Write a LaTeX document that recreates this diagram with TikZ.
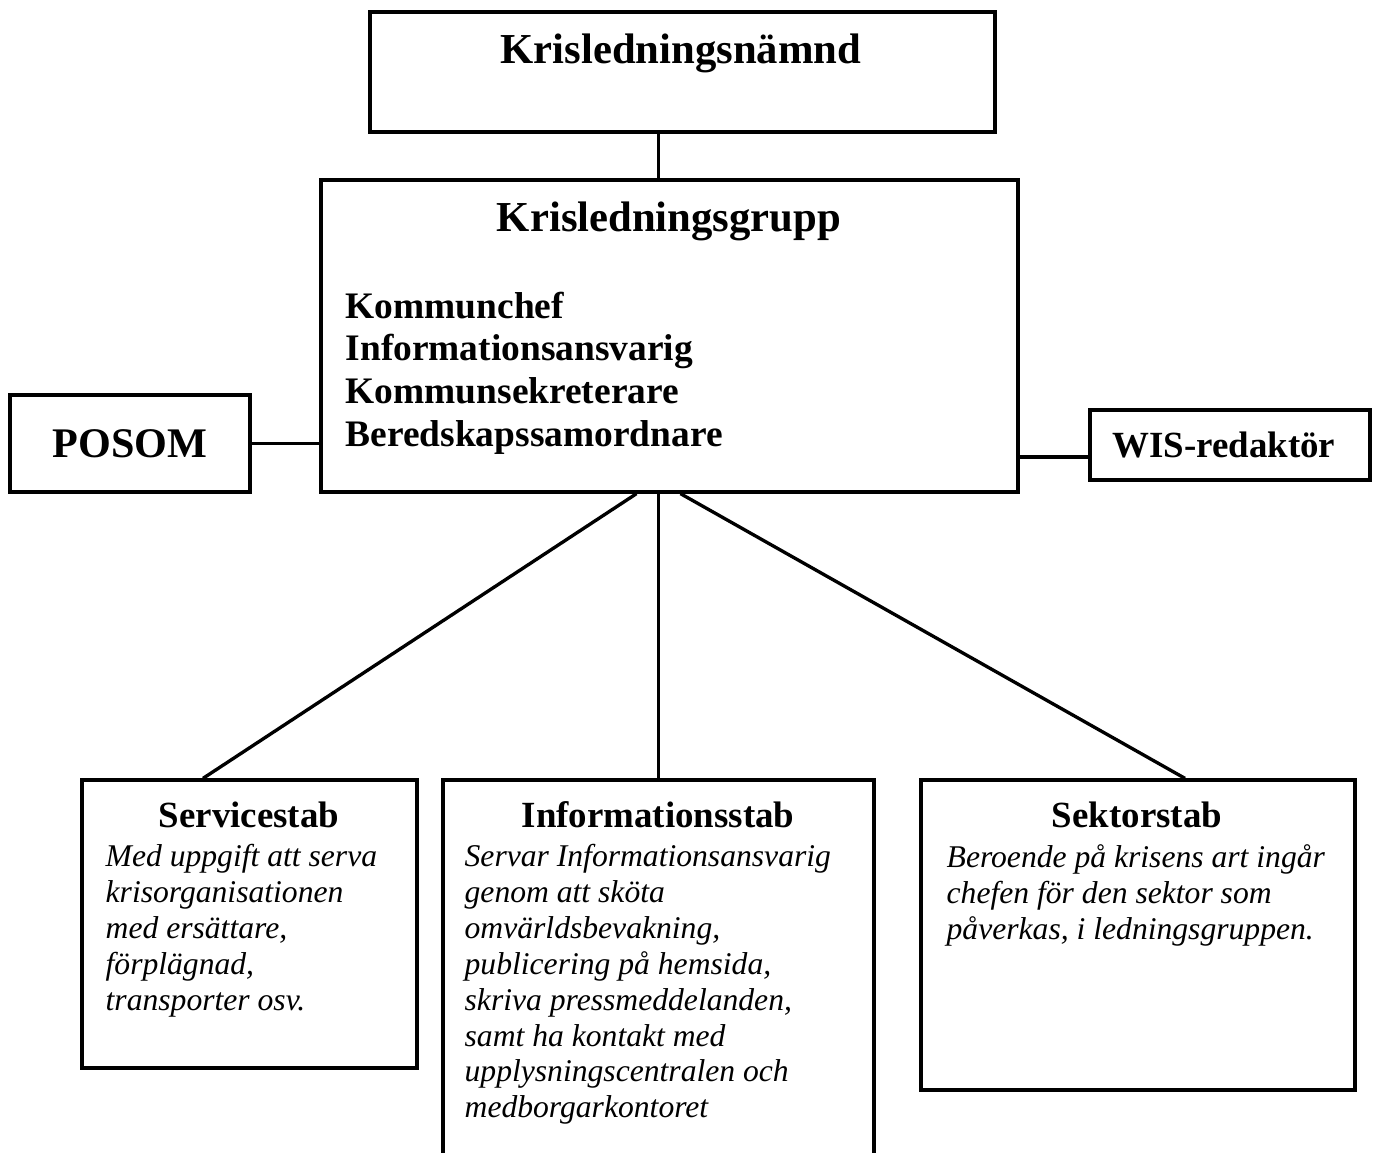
\documentclass[tikz,border=0pt]{standalone}
\usepackage{fontspec}
\setmainfont{Liberation Serif}
\usetikzlibrary{positioning}

\begin{document}
\begin{tikzpicture}[x=0.02cm, y=-0.02cm, line width=1.9pt,
    box/.style={draw, rectangle, inner sep=0pt},
    head/.style={font=\fontsize{24.3}{27}\selectfont\bfseries},
    stabhead/.style={font=\fontsize{21}{24}\selectfont\bfseries},
    desc/.style={font=\fontsize{18}{20.4}\selectfont\itshape, align=left, anchor=north west, inner sep=0pt}]
    \useasboundingbox (0,0) rectangle (1380,1153);
    \begin{scope}
    \clip (0,0) rectangle (1380,1153);
    % boxes
    \node[box, minimum width=12.5cm, minimum height=2.4cm] (namnd) at (682.5,72) {};
    \node[box, minimum width=13.94cm, minimum height=6.24cm] (grupp) at (669.5,336) {};
    \node[box, minimum width=4.8cm, minimum height=1.94cm] (posom) at (130,443.5) {};
    \node[box, minimum width=5.6cm, minimum height=1.4cm] (wis) at (1230,445) {};
    \node[box, minimum width=6.7cm, minimum height=5.76cm] (service) at (249.5,924) {};
    \node[box, minimum width=8.62cm, minimum height=7.8cm] (info) at (658.5,975) {};
    \node[box, minimum width=8.68cm, minimum height=6.2cm] (sektor) at (1138,935) {};
    \end{scope}

    % texts
    \node[head] at (681,53) {Krisledningsnämnd};
    \node[head] at (669,221) {Krisledningsgrupp};
    \node[font=\fontsize{21.3}{24.4}\selectfont\bfseries, align=left, anchor=north west, inner sep=0pt]
        (members) at (344,290) {Kommunchef\\Informationsansvarig\\Kommunsekreterare\\Beredskapssamordnare};
    \node[font=\fontsize{24}{27}\selectfont\bfseries] at (posom) {POSOM};
    \node[font=\fontsize{21}{24}\selectfont\bfseries] at (1224,445) {WIS-redaktör};

    \node[stabhead] (servicehead) at (249,815) {Servicestab};
    \node[stabhead] (infohead) at (658,815) {Informationsstab};
    \node[stabhead] (sektorhead) at (1137,815) {Sektorstab};
    \node[desc] at (104,843) {Med uppgift att serva\\krisorganisationen\\med ersättare,\\förplägnad,\\transporter osv.};
    \node[desc] at (463,843) {Servar Informationsansvarig\\genom att sköta\\omvärldsbevakning,\\publicering på hemsida,\\skriva pressmeddelanden,\\samt ha kontakt med\\upplysningscentralen och\\medborgarkontoret};
    \node[desc] at (945,843) {Beroende på krisens art ingår\\chefen för den sektor som\\påverkas, i ledningsgruppen.};

    % connectors
    \draw (namnd.south -| info.north) -- (grupp.north -| info.north);
    \draw (posom.east) -- (posom.east -| grupp.west);
    \draw ([yshift=-0.24cm]wis.west) -- ([yshift=-0.24cm]wis.west -| grupp.east);
    \draw ([xshift=-0.44cm]grupp.south -| info.north) -- ([xshift=-0.93cm]service.north);
    \draw (grupp.south -| info.north) -- (info.north);
    \draw ([xshift=0.44cm]grupp.south -| info.north) -- ([xshift=0.94cm]sektor.north);
\end{tikzpicture}
\end{document}
